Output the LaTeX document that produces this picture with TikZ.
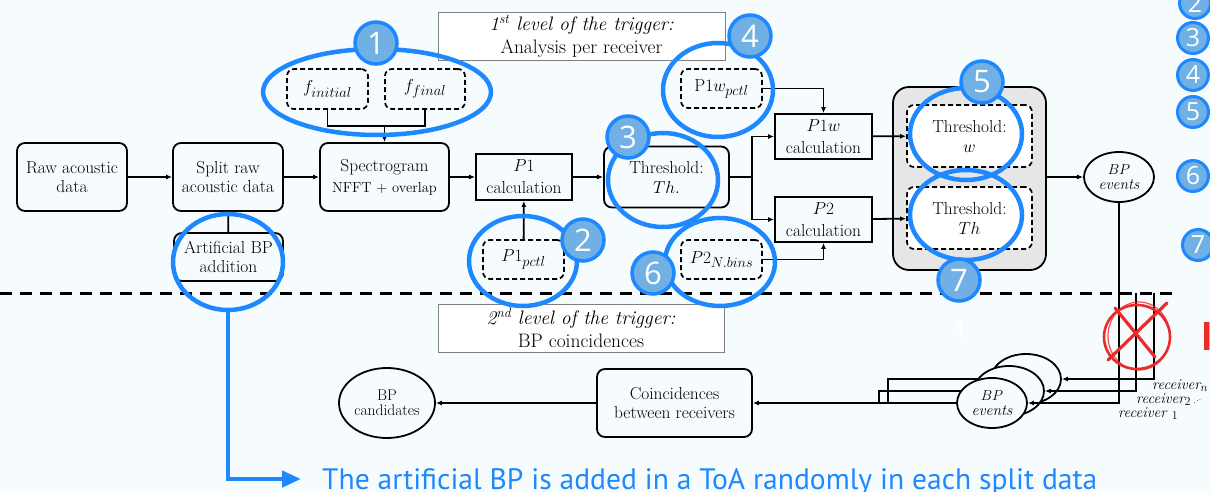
\documentclass[tikz,border=0pt]{standalone}
\usepackage{fontspec}
\usepackage{amsmath}
\usetikzlibrary{shapes.geometric,arrows.meta}
\newfontfamily\capfont{PT Sans}
\newfontfamily\numfont{Open Sans}
\newcommand\setfs[2]{\fontsize{#1}{#2}\selectfont}
\DeclareMathSizes{17.4}{17.4}{13.5}{10}
\DeclareMathSizes{15}{15}{11.5}{9}
\definecolor{bgc}{RGB}{246,252,254}
\definecolor{annot}{RGB}{30,136,255}
\definecolor{annotfill}{RGB}{112,176,228}
\definecolor{boxgray}{RGB}{230,230,230}
\definecolor{redmark}{RGB}{236,42,42}
\tikzset{
  rbox/.style={draw, line width=1.8pt, rounded corners=8pt, align=center, inner sep=0pt, font=\setfs{17.4}{19}},
  sbox/.style={draw, line width=1.8pt, align=center, inner sep=0pt, font=\setfs{17.4}{19}},
  dbox/.style={draw, line width=1.7pt, rounded corners=7pt, dash pattern=on 5pt off 3pt, align=center, inner sep=0pt, font=\setfs{17.4}{19}},
  lvlbox/.style={draw=black!50, line width=0.8pt, fill=white, align=center, inner sep=0pt, font=\setfs{19.5}{23}},
  evell/.style={draw, line width=1.8pt, ellipse, fill=bgc, inner sep=0pt, align=center, minimum width=70pt, minimum height=50pt, font=\setfs{15.5}{15.5}},
  link/.style={line width=1.8pt},
  arr/.style={line width=1.8pt, -{Latex[length=6pt,width=5pt]}},
  annell/.style={draw=annot, line width=4.5pt, ellipse, inner sep=0pt},
  numc/.style={circle, fill=annotfill, draw=annot, line width=3.5pt, minimum size=42pt, inner sep=0pt, text=white, font=\numfont\setfs{31}{31}},
  numcs/.style={numc, line width=3pt, minimum size=31pt, font=\numfont\setfs{25}{25}},
  recv/.style={anchor=base west, inner sep=0pt, font=\setfs{15}{15}\itshape},
}
\begin{document}
\begin{tikzpicture}[x=1pt, y=-1pt]
\useasboundingbox (0,0) rectangle (1210,492);
\fill[bgc] (0,0) rectangle (1210,492);

% ---------- first level: per receiver ----------
\node[lvlbox, minimum width=287pt, minimum height=48pt] (lvl1) at (581.5,36)
  {\textit{1\textsuperscript{st} level of the trigger:}\\Analysis per receiver};

\node[rbox, minimum width=110pt, minimum height=68pt] (raw) at (72,177) {Raw acoustic\\data};
\node[rbox, minimum width=110pt, minimum height=68pt] (split) at (228,177) {Split raw\\acoustic data};
\node[rbox, minimum width=129pt, minimum height=68pt] (spec) at (384.5,177)
  {Spectrogram\\[2pt]{\setfs{14.5}{15}NFFT + overlap}};
\node[sbox, minimum width=96pt, minimum height=46pt] (p1) at (524,177) {$P1$\\[3pt]calculation};
\node[rbox, minimum width=125pt, minimum height=61pt] (thr) at (666.5,177) {Threshold:\\[1pt]$Th.$};
\node[sbox, minimum width=97pt, minimum height=45pt] (p1w) at (823.5,136.5) {$P1w$\\[3pt]calculation};
\node[sbox, minimum width=97pt, minimum height=45pt] (p2) at (823.5,219.5) {$P2$\\[3pt]calculation};

\node[draw, line width=1.8pt, rounded corners=16pt, fill=boxgray, minimum width=153pt, minimum height=183pt] (gray) at (969.5,178.5) {};
\node[dbox, fill=white, minimum width=125pt, minimum height=62pt] (thw) at (969.5,136) {Threshold:\\[1pt]$w$};
\node[dbox, fill=white, minimum width=125pt, minimum height=62pt] (tht) at (969.5,218) {Threshold:\\[1pt]$Th$};

\node[evell, draw, fill=bgc] (bpe) at (1119,177) {$BP$\\\textit{events}};

\node[dbox, minimum width=81pt, minimum height=40pt] (fi) at (327.5,89) {$f_{initial}$};
\node[dbox, minimum width=80pt, minimum height=40pt] (ff) at (425,89) {$f_{final}$};
\node[dbox, minimum width=81pt, minimum height=39pt] (p1p) at (523.5,259.5) {$P1_{pctl}$};
\node[dbox, minimum width=81pt, minimum height=39pt] (p1wp) at (721.5,88.5) {P1$w_{pctl}$};
\node[dbox, minimum width=81pt, minimum height=39pt] (p2n) at (721.5,259.5) {$P2_{N.bins}$};

\node[rbox, minimum width=109pt, minimum height=48pt] (art) at (228.5,257) {Artificial BP\\addition};

% connectors of the first level
\draw[arr] (raw) -- (split);
\draw[arr] (split) -- (spec);
\draw[arr] (spec) -- (p1);
\draw[arr] (p1) -- (thr);
\coordinate (fork) at (752,177);
\draw[link] (thr.east) -- (fork);
\draw[arr] (fork) |- (p1w.west);
\draw[arr] (fork) |- (p2.west);
\draw[arr] (p1w) -- (thw);
\draw[arr] (p2) -- (tht);
\draw[arr] (gray.east |- bpe.west) -- (bpe.west);
\coordinate (fbar) at (0,126);
\draw[link] (fi.south) |- (ff.south |- fbar) -- (ff.south);
\draw[arr] (spec.north |- fbar) -- (spec.north);
\draw[arr] (p1p) -- (p1);
\draw[arr] (p1wp.east) -| (p1w.north);
\draw[arr] (p2n.east) -| (p2.south);
\draw[link] (split) -- (art);

% ---------- separation between the two levels ----------
\draw[line width=3pt, dash pattern=on 12pt off 8pt] (0,293) -- (1176,293);

% ---------- second level: coincidences ----------
\node[lvlbox, minimum width=286pt, minimum height=48pt] (lvl2) at (581,328)
  {\textit{2\textsuperscript{nd} level of the trigger:}\\BP coincidences};
\node[rbox, minimum width=155pt, minimum height=68pt] (coin) at (674.5,403) {Coincidences\\between receivers};
\node[evell, minimum width=96pt, minimum height=70pt, font=\setfs{15.5}{14.5}] (cand) at (387,403) {BP\\candidates};

\coordinate (r2top) at (1136,293);
\coordinate (rntop) at (1154,293);
\coordinate (m3) at (888,403);
\coordinate (m2) at (879,403);

% event ellipses of the other receivers, stacked behind
\path (1026,379) coordinate (c3) (1009,391) coordinate (c2) (992,403) coordinate (c1);
\draw[link] (c3) -| (m3);
\draw[link] (c2) -| (m2);
\node[evell] (ev3) at (c3) {};
\node[evell] (ev2) at (c2) {};
\node[evell] (ev1) at (c1) {$BP$\\\textit{events}};
\draw[arr] (bpe.south) |- (ev1.east);
\draw[arr] (r2top) |- (ev2.east);
\draw[arr] (rntop) |- (ev3.east);
\draw[arr] (ev1.west) -- (coin.east);
\draw[arr] (coin) -- (cand);

\node[recv] (rn) at (1152,389) {receiver$_n$};
\node[recv] (r2) at (1136,403) {receiver$_2$\,{\setfs{8}{8}.\raisebox{1.5pt}{.}\raisebox{3pt}{.}}};
\node[recv] (r1) at (1118,417) {receiver $_1$};

% crossed-out receiver lines
\draw[redmark, line width=2.6pt] (1137,337) circle[x radius=33pt, y radius=32pt];
\draw[redmark, line width=1.2pt, opacity=0.8] (1139,336) circle[x radius=31pt, y radius=34pt];
\draw[redmark, line width=3.2pt, line cap=round] (1115,308) -- (1155,357);
\draw[redmark, line width=3.2pt, line cap=round] (1167,303) -- (1108,360);
\node[anchor=base west, inner sep=0pt, text=redmark, font=\capfont\bfseries\setfs{40}{40}] (redtxt) at (1201,350) {I};
\node[inner sep=0pt, text=white, font=\numfont\setfs{28}{28}] (ghost) at (960,330) {1};

% ---------- annotations ----------
\node[annell, minimum width=228pt, minimum height=86pt] (e1) at (377,92) {};
\node[annell, minimum width=110pt, minimum height=96pt] (eart) at (228,262) {};
\node[annell, minimum width=108pt, minimum height=90pt] (e2) at (523,261) {};
\node[annell, minimum width=110pt, minimum height=94pt] (e3) at (663,180) {};
\node[annell, minimum width=110pt, minimum height=94pt] (e4) at (718,90) {};
\node[annell, minimum width=110pt, minimum height=88pt] (e6) at (720,262) {};
\node[annell, minimum width=112pt, minimum height=92pt] (e5) at (966,134) {};
\node[annell, minimum width=112pt, minimum height=90pt] (e7) at (966,215) {};

\node[numc] (n1) at (376,43) {1};
\node[numc] (n2) at (583,240) {2};
\node[numc] (n3) at (628,137) {3};
\node[numc] (n4) at (750,36) {4};
\node[numc] (n5) at (982,82) {5};
\node[numc] (n6) at (653,273) {6};
\node[numc] (n7) at (959,280) {7};

\node[numcs] (s2) at (1195,3) {2};
\node[numcs] (s3) at (1193,38) {3};
\node[numcs] (s4) at (1193,75) {4};
\node[numcs] (s5) at (1193,112) {5};
\node[numcs] (s6) at (1193,176) {6};
\node[numcs] (s7) at (1198,245) {7};

\node[anchor=base west, inner sep=0pt, text=annot] (capt) at (322,489)
  {\resizebox{775pt}{!}{\capfont The artificial BP is added in a ToA randomly in each split data}};
\coordinate (captin) at (301,479);
\draw[annot, line width=4.5pt, -{Triangle[length=19pt,width=16pt]}] (eart.south) |- (captin);
\end{tikzpicture}
\end{document}
